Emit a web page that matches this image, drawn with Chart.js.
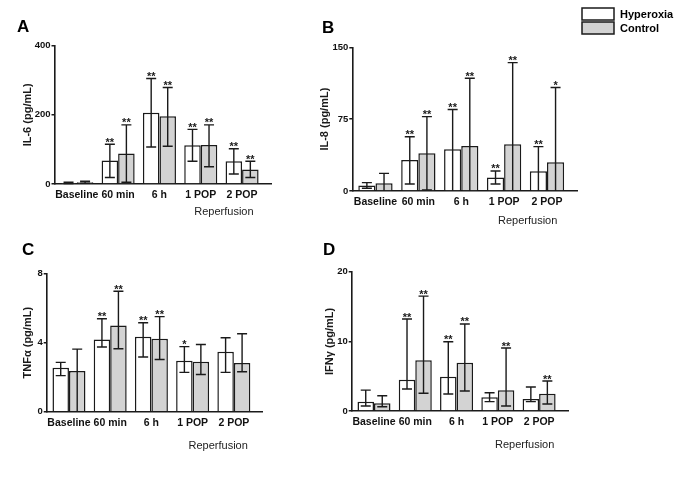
<!DOCTYPE html>
<html><head><meta charset="utf-8">
<script src="https://cdn.jsdelivr.net/npm/chart.js@4.4.1/dist/chart.umd.min.js"></script>
<style>
html,body{margin:0;padding:0;background:#fff;}
#wrap{position:relative;width:685px;height:482px;overflow:hidden;background:#fff;}
canvas{position:absolute;}
</style></head><body>
<div id="wrap">
<canvas id="cA" width="310" height="235" style="left:0;top:0"></canvas>
<canvas id="cB" width="375" height="235" style="left:310px;top:0"></canvas>
<canvas id="cC" width="310" height="247" style="left:0;top:235px"></canvas>
<canvas id="cD" width="375" height="247" style="left:310px;top:235px"></canvas>
</div>
<script>
const categories = ['Baseline', '60 min', '6 h', '1 POP', '2 POP'];
const seriesNames = ['Hyperoxia', 'Control'];
const groupLabel = 'Reperfusion';

// A: IL-6 (pg/mL)
const il6Hyperoxia     = [3, 68, 206, 112, 66];
const il6HyperoxiaLow  = [1, 19, 107, 66, 29];
const il6HyperoxiaHigh = [5, 115, 305, 158, 102];
const il6HyperoxiaSig  = ['', '**', '**', '**', '**'];
const il6Control       = [5, 88, 196, 113, 42];
const il6ControlLow    = [2, 5, 109, 50, 19];
const il6ControlHigh   = [8, 171, 279, 171, 66];
const il6ControlSig    = ['', '**', '**', '**', '**'];
const il6Ticks = [0, 200, 400];

// B: IL-8 (pg/mL)
const il8Hyperoxia     = [5.8, 32.4, 43.5, 14, 20.5];
const il8HyperoxiaLow  = [2.8, 7.3, null, 7.3, null];
const il8HyperoxiaHigh = [8.7, 56.7, 85, 20.9, 46.3];
const il8HyperoxiaSig  = ['', '**', '**', '**', '**'];
const il8Control       = [8, 39.3, 47, 48.7, 30];
const il8ControlLow    = [null, 1, null, null, null];
const il8ControlHigh   = [18.4, 77.6, 117.7, 134, 108];
const il8ControlSig    = ['', '**', '**', '**', '*'];
const il8Ticks = [0, 75, 150];

// C: TNFα (pg/mL)
const tnfHyperoxia     = [2.55, 4.19, 4.35, 2.96, 3.48];
const tnfHyperoxiaLow  = [2.09, 3.75, 3.17, 2.28, 2.28];
const tnfHyperoxiaHigh = [2.86, 5.39, 5.16, 3.77, 4.29];
const tnfHyperoxiaSig  = ['', '**', '**', '*', ''];
const tnfControl       = [2.36, 4.99, 4.23, 2.9, 2.82];
const tnfControlLow    = [null, 3.65, 3.03, 2.16, 2.32];
const tnfControlHigh   = [3.63, 6.98, 5.51, 3.9, 4.52];
const tnfControlSig    = ['', '**', '**', '', ''];
const tnfTicks = [0, 4, 8];

// D: IFNγ (pg/mL)
const ifnHyperoxia     = [1.34, 4.5, 4.93, 1.96, 1.72];
const ifnHyperoxiaLow  = [0.72, 3.16, 2.44, 1.34, 1.34];
const ifnHyperoxiaHigh = [3.0, 13.2, 9.95, 2.63, 3.44];
const ifnHyperoxiaSig  = ['', '**', '**', '', ''];
const ifnControl       = [1.1, 7.3, 6.94, 2.97, 2.49];
const ifnControlLow    = [0.62, 2.54, 2.87, 0.72, 1.0];
const ifnControlHigh   = [2.2, 16.5, 12.5, 9.04, 4.3];
const ifnControlSig    = ['', '**', '**', '**', '**'];
const ifnTicks = [0, 10, 20];

const FONT = '"Liberation Sans", Arial, Helvetica, sans-serif';
const INK = '#1a1a1a';
const GREY = '#d3d3d3';

const decor = {
  id: 'decor',
  afterDatasetsDraw(chart, args, o) {
    const ctx = chart.ctx, xs = chart.scales.x, ys = chart.scales.y;
    ctx.save();
    chart.data.datasets.forEach((ds, di) => {
      const meta = chart.getDatasetMeta(di);
      meta.data.forEach((bar, i) => {
        const hi = ds.errHigh[i], lo = ds.errLow[i];
        const yh = ys.getPixelForValue(hi);
        const yl = ys.getPixelForValue(lo == null ? 0 : lo);
        ctx.strokeStyle = INK; ctx.lineWidth = 1.4;
        ctx.beginPath();
        ctx.moveTo(bar.x, yh); ctx.lineTo(bar.x, yl);
        ctx.moveTo(bar.x - 5, yh); ctx.lineTo(bar.x + 5, yh);
        if (lo != null) { ctx.moveTo(bar.x - 5, yl); ctx.lineTo(bar.x + 5, yl); }
        ctx.stroke();
        const s = ds.sig[i];
        if (s) {
          ctx.fillStyle = INK; ctx.font = 'bold 11px ' + FONT;
          ctx.textAlign = 'center'; ctx.textBaseline = 'alphabetic';
          ctx.fillText(s, bar.x, yh + 1.5);
        }
      });
    });
    const ca = chart.chartArea;
    ctx.fillStyle = '#000'; ctx.font = 'bold 17px ' + FONT;
    ctx.textAlign = 'left'; ctx.textBaseline = 'alphabetic';
    ctx.fillText(o.letter, o.letterX, o.letterY);
    ctx.save();
    ctx.translate(o.titleX, (ca.top + ca.bottom) / 2);
    ctx.rotate(-Math.PI / 2);
    ctx.font = 'bold 11px ' + FONT; ctx.textAlign = 'center'; ctx.textBaseline = 'middle';
    ctx.fillStyle = INK;
    ctx.fillText(o.title, 0, 0);
    ctx.restore();
    ctx.font = '11px ' + FONT; ctx.fillStyle = '#222';
    ctx.textAlign = 'center'; ctx.textBaseline = 'middle';
    ctx.fillText(groupLabel, xs.getPixelForValue(o.groupPos), ca.bottom + o.groupDy);
    if (o.legend) {
      const L = o.legend;
      chart.data.datasets.forEach((ds, di) => {
        const by = L.y + di * L.step;
        ctx.fillStyle = ds.backgroundColor;
        ctx.fillRect(L.x, by, 32, 12);
        ctx.strokeStyle = INK; ctx.lineWidth = 1.5;
        ctx.strokeRect(L.x, by, 32, 12);
        ctx.fillStyle = '#000'; ctx.font = 'bold 11px ' + FONT;
        ctx.textAlign = 'left'; ctx.textBaseline = 'middle';
        ctx.fillText(ds.label, L.x + 38, by + 6.5);
      });
    }
    ctx.restore();
  }
};

function makePanel(id, g, d) {
  const cv = document.getElementById(id);
  const W = cv.width, H = cv.height;
  const mk = (v) => v.map((y, i) => ({ x: i, y }));
  new Chart(cv, {
    type: 'bar',
    data: {
      datasets: [
        { label: seriesNames[0], data: mk(d.h), errLow: d.hl, errHigh: d.hh, sig: d.hs,
          backgroundColor: '#ffffff', borderColor: INK, borderWidth: 1.5 },
        { label: seriesNames[1], data: mk(d.c), errLow: d.cl, errHigh: d.ch, sig: d.cs,
          backgroundColor: GREY, borderColor: INK, borderWidth: 1.5 }
      ]
    },
    options: {
      responsive: false, animation: false,
      barPercentage: 1.0, categoryPercentage: 0.8,
      layout: { padding: { left: 0, top: g.T, right: W - g.R, bottom: 0 } },
      plugins: {
        legend: { display: false }, tooltip: { enabled: false },
        decor: { letter: g.letter, letterX: g.lx, letterY: g.ly, title: g.title, titleX: g.tx,
                 groupPos: g.gp, groupDy: g.gdy, legend: g.legend }
      },
      scales: {
        x: {
          type: 'linear', min: -0.54, max: 4.7, offset: false,
          grid: { display: false, drawTicks: false },
          border: { display: true, color: INK, width: 1.6 },
          afterBuildTicks: s => { s.ticks = categories.map((c, i) => ({ value: i })); },
          afterFit: s => { s.height = H - g.B; },
          ticks: { callback: v => categories[v] ?? '', autoSkip: false, maxRotation: 0, padding: 5,
                   color: '#111', font: { size: 10.5, weight: 'bold', family: FONT } }
        },
        y: {
          min: d.ticks[0], max: d.ticks[d.ticks.length - 1],
          afterBuildTicks: s => { s.ticks = d.ticks.map(v => ({ value: v })); },
          afterFit: s => { s.width = g.L; },
          grid: { display: true, drawOnChartArea: false, drawTicks: true, tickLength: 3, color: INK, lineWidth: 1.5 },
          border: { display: true, color: INK, width: 1.6 },
          ticks: { padding: 1, color: '#111', font: { size: 9.5, weight: 'bold', family: FONT } }
        }
      }
    },
    plugins: [decor]
  });
}

makePanel('cA', { L: 54.5, R: 271, T: 45.7, B: 184, letter: 'A', lx: 17, ly: 32, title: 'IL-6 (pg/mL)', tx: 27.5, gp: 3.56, gdy: 28 },
  { h: il6Hyperoxia, hl: il6HyperoxiaLow, hh: il6HyperoxiaHigh, hs: il6HyperoxiaSig,
    c: il6Control, cl: il6ControlLow, ch: il6ControlHigh, cs: il6ControlSig, ticks: il6Ticks });
makePanel('cB', { L: 42.3, R: 267, T: 47.3, B: 191, letter: 'B', lx: 12, ly: 33, title: 'IL-8 (pg/mL)', tx: 15, gp: 3.55, gdy: 30,
  legend: { x: 272, y: 8, step: 14 } },
  { h: il8Hyperoxia, hl: il8HyperoxiaLow, hh: il8HyperoxiaHigh, hs: il8HyperoxiaSig,
    c: il8Control, cl: il8ControlLow, ch: il8ControlHigh, cs: il8ControlSig, ticks: il8Ticks });
makePanel('cC', { L: 46.7, R: 262.7, T: 38.7, B: 176.7, letter: 'C', lx: 22, ly: 20, title: 'TNF\u03b1 (pg/mL)', tx: 28.3, gp: 3.62, gdy: 34 },
  { h: tnfHyperoxia, hl: tnfHyperoxiaLow, hh: tnfHyperoxiaHigh, hs: tnfHyperoxiaSig,
    c: tnfControl, cl: tnfControlLow, ch: tnfControlHigh, cs: tnfControlSig, ticks: tnfTicks });
makePanel('cD', { L: 41.7, R: 258, T: 36.7, B: 176, letter: 'D', lx: 13, ly: 20, title: 'IFN\u03b3 (pg/mL)', tx: 20, gp: 3.65, gdy: 34 },
  { h: ifnHyperoxia, hl: ifnHyperoxiaLow, hh: ifnHyperoxiaHigh, hs: ifnHyperoxiaSig,
    c: ifnControl, cl: ifnControlLow, ch: ifnControlHigh, cs: ifnControlSig, ticks: ifnTicks });
</script>
</body></html>
